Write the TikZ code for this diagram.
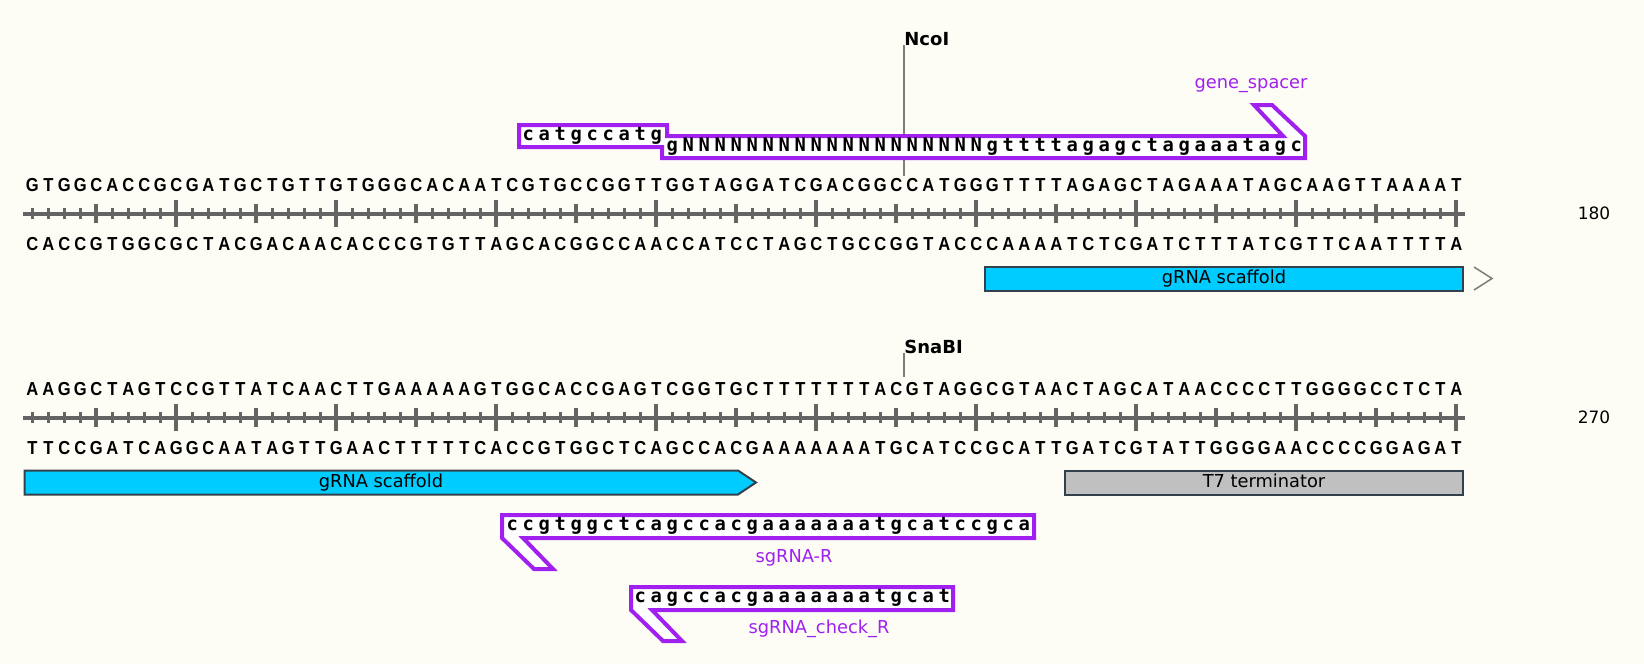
\documentclass[tikz,border=0pt]{standalone}
\usepackage{fontspec}
\usepackage{tikz}
\usetikzlibrary{positioning}
\newfontfamily\seqfont{Liberation Sans}[FakeStretch = 0.88]
\newfontfamily\primerfont{DejaVu Sans Mono}
\newfontfamily\labelfont{DejaVu Sans}
\definecolor{bgcream}{RGB}{253,253,246}
\definecolor{primerpurple}{RGB}{160,32,240}
\definecolor{rulergray}{RGB}{100,100,100}
\definecolor{cutgray}{RGB}{125,125,125}
\definecolor{featcyan}{RGB}{0,204,255}
\definecolor{featgray}{RGB}{192,192,192}
\definecolor{featedge}{RGB}{50,65,75}
% one letter per base, 16px = 8pt wide
\newcommand\spreadseq[1]{\spreadloop#1\relax}
\def\spreadloop#1{\ifx#1\relax\else\makebox[8pt][c]{#1}\expandafter\spreadloop\fi}
\tikzset{seq/.style = {inner sep = 0, anchor = base west, font = \seqfont\bfseries\fontsize{9.4}{10}\selectfont}}
\tikzset{primer/.style = {inner sep = 0, anchor = base west, font = \primerfont\bfseries\fontsize{9.4}{10}\selectfont}}
\tikzset{primerbox/.style = {draw = primerpurple, line width = 2pt, fill = white, line join = miter}}
\tikzset{primerlabel/.style = {inner sep = 0, anchor = base, text = primerpurple, font = \labelfont\fontsize{8.9}{10}\selectfont}}
\tikzset{enzyme/.style = {inner sep = 0, anchor = base west, font = \labelfont\bfseries\fontsize{9}{10}\selectfont}}
\tikzset{cutline/.style = {draw = cutgray, line width = 0.75pt}}
\tikzset{feature/.style = {draw = featedge, line width = 1pt}}
\tikzset{featlabel/.style = {inner sep = 0, anchor = base, font = \labelfont\fontsize{8.9}{10}\selectfont}}
\tikzset{ruler/.style = {draw = rulergray, line width = 2pt}}
\tikzset{minortick/.style = {draw = rulergray, line width = 1.5pt}}
\tikzset{numlabel/.style = {inner sep = 0, font = \labelfont\fontsize{8.5}{10}\selectfont}}

\begin{document}
\begin{tikzpicture}[x = 0.5pt, y = -0.5pt]
      \fill [bgcream] (0, 0) rectangle (1644, 664);
      \useasboundingbox (0, 0) rectangle (1644, 664);

      % rulers
      \foreach \dy in {0, 204} {
        \draw [ruler] (22.7, {213.7 + \dy}) -- (1465, {213.7 + \dy});
        \foreach \i in {1, ..., 90}
          \draw [minortick] ({16*\i + 16}, {208.2 + \dy}) -- ++(0, 11);
        \foreach \i in {5, 15, ..., 85}
          \draw [ruler] ({16*\i + 16}, {204.2 + \dy}) -- ++(0, 19);
        \foreach \i in {10, 20, ..., 90}
          \draw [ruler] ({16*\i + 16}, {200.3 + \dy}) -- ++(0, 26.8);
      }
      \node [numlabel] (num1) at (1594, 213.7) {180};
      \node [numlabel] (num2) at (1594, 417.7) {270};

      % row 1
      \node [enzyme] (ncoi) at (904, 45) {NcoI};
      \coordinate (ncoisite) at (904, 176);
      \draw [cutline] (ncoi.base west) -- (ncoisite);

      \draw [primerbox] (519, 125) -- (667, 125) -- (667, 136) -- (1283, 136) -- (1254, 105)
        -- (1272, 105) -- (1305, 136) -- (1305, 158) -- (662, 158) -- (662, 147) -- (519, 147) -- cycle;
      \node [primer] (spacerup) at (520, 140.7) {\spreadseq{catgccatg}};
      \node [primer] (spacerlow) at (664, 151.7) {\spreadseq{gNNNNNNNNNNNNNNNNNNNgttttagagctagaaatagc}};
      \node [primerlabel] (spacerlab) at (1251, 88) {gene\_spacer};

      \node [seq] (top1) at (24, 191) {\spreadseq{GTGGCACCGCGATGCTGTTGTGGGCACAATCGTGCCGGTTGGTAGGATCGACGGCCATGGGTTTTAGAGCTAGAAATAGCAAGTTAAAAT}};
      \node [seq] (bot1) at (24, 250) {\spreadseq{CACCGTGGCGCTACGACAACACCCGTGTTAGCACGGCCAACCATCCTAGCTGCCGGTACCCAAAATCTCGATCTTTATCGTTCAATTTTA}};

      \draw [feature, fill = featcyan] (985, 266.5) rectangle (1462.5, 291);
      \node [featlabel] (scaf1) at (1224, 283) {gRNA scaffold};
      \draw [cutgray, line width = 0.75pt] (1474, 267) -- (1492, 278.5) -- (1474, 290);

      % row 2
      \node [enzyme] (snabi) at (904, 353) {SnaBI};
      \coordinate (snabisite) at (904, 377);
      \draw [cutline] (snabi.base west) -- (snabisite);

      \node [seq] (top2) at (24, 395) {\spreadseq{AAGGCTAGTCCGTTATCAACTTGAAAAAGTGGCACCGAGTCGGTGCTTTTTTTACGTAGGCGTAACTAGCATAACCCCTTGGGGCCTCTA}};
      \node [seq] (bot2) at (24, 454) {\spreadseq{TTCCGATCAGGCAATAGTTGAACTTTTTCACCGTGGCTCAGCCACGAAAAAAATGCATCCGCATTGATCGTATTGGGGAACCCCGGAGAT}};

      \draw [feature, fill = featcyan] (24.5, 470.5) -- (738, 470.5) -- (756, 482.5) -- (738, 494.5) -- (24.5, 494.5) -- cycle;
      \node [featlabel] (scaf2) at (381, 487) {gRNA scaffold};
      \draw [feature, fill = featgray] (1065, 470.5) rectangle (1462.5, 494.5);
      \node [featlabel] (t7) at (1264, 487) {T7 terminator};

      \draw [primerbox] (502, 515) -- (1034, 515) -- (1034, 538) -- (523, 538) -- (553, 569)
        -- (534, 569) -- (502, 538) -- cycle;
      \node [primer] (sgr) at (504, 530.7) {\spreadseq{ccgtggctcagccacgaaaaaaatgcatccgca}};
      \node [primerlabel] (sgrlab) at (794, 562) {sgRNA-R};

      \draw [primerbox] (631, 587) -- (953, 587) -- (953, 610) -- (652, 610) -- (682, 641)
        -- (663, 641) -- (631, 610) -- cycle;
      \node [primer] (sgc) at (632, 602.7) {\spreadseq{cagccacgaaaaaaatgcat}};
      \node [primerlabel] (sgclab) at (819, 633) {sgRNA\_check\_R};
\end{tikzpicture}
\end{document}
